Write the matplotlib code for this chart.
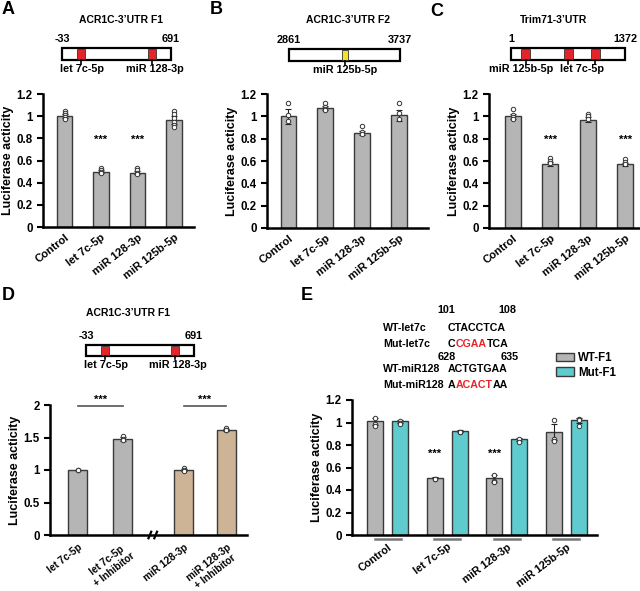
import numpy as np
import matplotlib
matplotlib.use('Agg')
import matplotlib.pyplot as plt
from matplotlib.patches import Rectangle, Patch
from matplotlib.ticker import StrMethodFormatter

plt.rcParams['font.family'] = ['Liberation Sans', 'DejaVu Sans']
plt.rcParams['font.weight'] = 'bold'
plt.rcParams['axes.labelweight'] = 'bold'
plt.rcParams['font.size'] = 8

W, H = 640, 591

GRAY = '#b5b5b5'
TAN = '#cdb497'
CYAN = '#5fcbcf'
EDGE = '#3a3a3a'

# ---- data ----
mirnas = ['Control', 'let 7c-5p', 'miR 128-3p', 'miR 125b-5p']

a_mean = [1.00, 0.50, 0.49, 0.965]
a_err = [0.02, 0.012, 0.015, 0.035]
a_pts = [[1.05, 1.03, 1.01, 0.99, 0.97],
         [0.53, 0.51, 0.50, 0.49],
         [0.53, 0.51, 0.49, 0.48],
         [1.05, 1.02, 0.98, 0.95, 0.92, 0.90]]

b_mean = [1.00, 1.075, 0.85, 1.01]
b_err = [0.07, 0.015, 0.02, 0.05]
b_pts = [[1.12, 1.01, 0.96], [1.12, 1.08, 1.07, 1.06], [0.91, 0.86, 0.84], [1.12, 1.03, 0.98]]

c_mean = [1.00, 0.575, 0.97, 0.57]
c_err = [0.02, 0.02, 0.02, 0.015]
c_pts = [[1.07, 1.01, 0.99, 0.98], [0.63, 0.60, 0.58], [1.02, 1.00, 0.98], [0.62, 0.59, 0.57]]

d_labels = ['let 7c-5p', 'let 7c-5p\n+ Inhibitor', 'miR 128-3p', 'miR 128-3p\n+ Inhibitor']
d_mean = [1.00, 1.48, 1.00, 1.62]
d_err = [0.005, 0.03, 0.02, 0.015]
d_pts = [[1.00, 1.00], [1.53, 1.47, 1.46], [1.03, 1.00, 0.99], [1.64, 1.62, 1.62]]

e_wt_mean = [1.01, 0.51, 0.505, 0.915]
e_wt_err = [0.03, 0.005, 0.03, 0.07]
e_wt_pts = [[1.04, 0.99, 0.97], [0.50, 0.50], [0.53, 0.48, 0.47], [1.02, 0.85, 0.84]]
e_mut_mean = [1.01, 0.925, 0.85, 1.02]
e_mut_err = [0.01, 0.005, 0.01, 0.02]
e_mut_pts = [[1.01, 1.00, 0.99], [0.92, 0.92], [0.85, 0.83], [1.03, 1.02, 0.97]]

# 3'UTR constructs: (start, end), site positions (nt), label positions (nt)
a_range = (-33, 691)
a_sites = [95, 565]
a_site_labels = [(98, 'let 7c-5p'), (585, 'miR 128-3p')]
b_range = (2861, 3737)
b_sites = [3303]
b_site_labels = [(3303, 'miR 125b-5p')]
c_range = (1, 1372)
c_sites = [181, 687, 1012]
c_site_labels = [(121, 'miR 125b-5p'), (855, 'let 7c-5p')]

fig = plt.figure(figsize=(W / 100, H / 100), dpi=100)


def px_axes(x0, y0, x1, y1):
    return fig.add_axes([x0 / W, 1 - y1 / H, (x1 - x0) / W, (y1 - y0) / H])


def style(ax, ymax, step):
    for s in ['top', 'right']:
        ax.spines[s].set_visible(False)
    ax.spines['left'].set_linewidth(1.8)
    ax.spines['bottom'].set_linewidth(1.8)
    ax.set_ylim(0, ymax)
    ax.set_yticks(np.arange(0, ymax + 1e-9, step))
    ax.yaxis.set_major_formatter(StrMethodFormatter('{x:g}'))
    ax.tick_params(axis='y', width=1.5, length=4, labelsize=8.3)
    ax.tick_params(axis='x', length=0, labelsize=8)
    ax.set_ylabel('Luciferase acticity', fontsize=9, labelpad=2)


def bars(ax, pos, means, errs, pts, color, width):
    ax.bar(pos, means, width, color=color, edgecolor=EDGE, linewidth=1, zorder=2)
    ax.errorbar(pos, means, yerr=errs, fmt='none', ecolor='#222', elinewidth=0.8,
                capsize=2, capthick=0.8, zorder=3)
    for p, vals in zip(pos, pts):
        ax.plot([p] * len(vals), vals, 'o', mfc='white', mec='#333', ms=3.2, mew=0.7,
                zorder=4, clip_on=False)


def schematic(x0, x1, ytop, ybot, rng, sites, color, site_w_px, site_labels):
    ax = px_axes(x0, ytop, x1, ybot)
    start, end = rng
    ax.set_xlim(start, end)
    ax.set_ylim(0, 1)
    ax.axis('off')
    sw = site_w_px * (end - start) / (x1 - x0)
    ax.add_patch(Rectangle((start, 0), end - start, 1, facecolor='white', edgecolor='black',
                           lw=1.6, clip_on=False))
    for s in sites:
        ax.add_patch(Rectangle((s - sw / 2, 0.06), sw, 0.88, facecolor=color, edgecolor='#333',
                               lw=0.6, clip_on=False))
        ax.plot([s, s], [0, -0.3], color='black', lw=1.2, clip_on=False)
    ax.text(start, 1.35, str(start), ha='center', va='bottom', fontsize=7.8)
    ax.text(end, 1.35, str(end), ha='center', va='bottom', fontsize=7.8)
    for x, lab in site_labels:
        ax.text(x, -0.35, lab, ha='center', va='top', fontsize=7.8)


# ---- panels A, B, C ----
abc = [
    (px_axes(43, 94, 194, 227), a_mean, a_err, a_pts, (-0.59, 3.55), [1, 2]),
    (px_axes(267, 94, 428, 228), b_mean, b_err, b_pts, (-0.58, 3.79), []),
    (px_axes(489, 94, 639, 228), c_mean, c_err, c_pts, (-0.63, 3.37), [1, 3]),
]
for ax, m, e, p, xl, stars in abc:
    pos = np.arange(len(mirnas))
    bars(ax, pos, m, e, p, GRAY, 0.42)
    style(ax, 1.2, 0.2)
    ax.set_xlim(*xl)
    ax.set_xticks(pos)
    ax.set_xticklabels(mirnas, rotation=38, ha='right', rotation_mode='anchor')
    ax.tick_params(axis='x', pad=4)
    for s in stars:
        ax.text(s, 0.79, '***', ha='center', va='center', fontsize=8)

schematic(62, 171, 48, 60, a_range, a_sites, '#e3242b', 8, a_site_labels)
schematic(289, 400, 49, 61, b_range, b_sites, '#f2e424', 6, b_site_labels)
schematic(511, 625, 48, 60, c_range, c_sites, '#e3242b', 9, c_site_labels)
schematic(86, 194, 345, 356, a_range, a_sites, '#e3242b', 8, a_site_labels)

# ---- panel D ----
axd = px_axes(50, 405, 247, 535)
d_pos = [0, 1, 2.35, 3.3]
bars(axd, d_pos, d_mean, d_err, d_pts, [GRAY, GRAY, TAN, TAN], 0.42)
style(axd, 2, 0.5)
axd.set_xlim(-0.62, 3.76)
axd.set_xticks(d_pos)
axd.set_xticklabels(d_labels, rotation=38, ha='right', rotation_mode='anchor',
                    multialignment='center', fontsize=7.2)
axd.tick_params(axis='x', pad=5)
for a, b in [(0, 1), (2, 3)]:
    axd.plot([d_pos[a], d_pos[b]], [1.99, 1.99], color='#555', lw=1.2, clip_on=False)
    axd.text((d_pos[a] + d_pos[b]) / 2, 2.01, '***', ha='center', va='bottom', fontsize=8)
for xb in [1.6, 1.73]:
    axd.plot([xb - 0.03, xb + 0.03], [-0.05, 0.05], color='black', lw=1.6, clip_on=False)

# ---- panel E ----
axe = px_axes(352, 400, 597, 535)
g = np.arange(len(mirnas))
bars(axe, g - 0.21, e_wt_mean, e_wt_err, e_wt_pts, GRAY, 0.27)
bars(axe, g + 0.21, e_mut_mean, e_mut_err, e_mut_pts, CYAN, 0.27)
style(axe, 1.2, 0.2)
axe.set_xlim(-0.6, 3.52)
axe.set_xticks(g)
axe.set_xticklabels(mirnas, rotation=37, ha='right', rotation_mode='anchor', fontsize=7.8)
axe.tick_params(axis='x', pad=5)
for gi in g:
    axe.plot([gi - 0.22, gi + 0.22], [-0.035, -0.035], color='#777', lw=1.8, clip_on=False)
for s in [1, 2]:
    axe.text(s - 0.21, 0.72, '***', ha='center', va='center', fontsize=8)
fig.legend(handles=[Patch(facecolor=GRAY, edgecolor=EDGE, label='WT-F1'),
                    Patch(facecolor=CYAN, edgecolor=EDGE, label='Mut-F1')],
           loc='upper left', bbox_to_anchor=(556 / W, 1 - 352 / H), frameon=False,
           fontsize=8.3, handlelength=1.6, handleheight=0.8, handletextpad=0.3,
           labelspacing=0.25, borderpad=0, borderaxespad=0)

# ---- free text in pixel coordinates ----
ov = fig.add_axes([0, 0, 1, 1])
ov.axis('off')
ov.set_xlim(0, W)
ov.set_ylim(H, 0)

for x, y, s in [(8, 10, 'A'), (216, 10, 'B'), (437, 12, 'C'), (8, 295, 'D'), (307, 295, 'E')]:
    ov.text(x, y, s, ha='center', va='center', fontsize=13)

for x, y, s in [(121, 20, "ACR1C-3\u2019UTR F1"), (348, 20, "ACR1C-3\u2019UTR F2"),
                (553, 20, "Trim71-3\u2019UTR"), (128, 313, "ACR1C-3\u2019UTR F1")]:
    ov.text(x, y, s, ha='center', va='center', fontsize=7.5)

for x, y, s in [(446, 310, '101'), (507, 310, '108'), (447, 357, '628'), (510, 357, '635')]:
    ov.text(x, y, s, ha='center', va='center', fontsize=7.8)

seq_rows = [
    (328, 'WT-let7c', [('CTACCTCA', 'black')]),
    (344, 'Mut-let7c', [('C', 'black'), ('CGAA', '#e8232a'), ('TCA', 'black')]),
    (369, 'WT-miR128', [('ACTGTGAA', 'black')]),
    (385, 'Mut-miR128', [('A', 'black'), ('ACACT', '#e8232a'), ('AA', 'black')]),
]
for y, name, parts in seq_rows:
    ov.text(383, y, name, ha='left', va='center', fontsize=7.7)
    t = ov.text(448, y, parts[0][0], color=parts[0][1], ha='left', va='center', fontsize=7.7)
    for s, c in parts[1:]:
        t = ov.annotate(s, xy=(1, 0), xycoords=t, ha='left', va='bottom', color=c,
                        fontsize=7.7)

fig.savefig('out.png', dpi=100)
